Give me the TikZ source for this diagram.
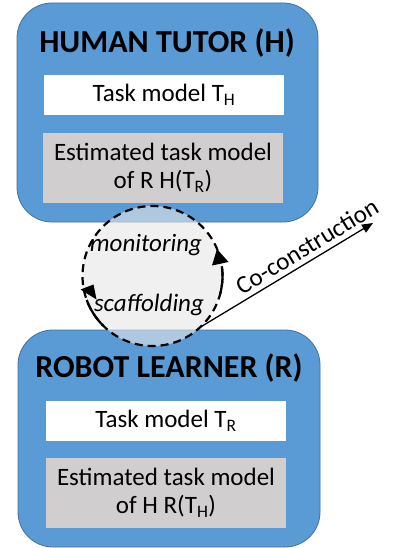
\documentclass[tikz,border=0pt]{standalone}
\usepackage{fontspec}
\setmainfont{Carlito}
\usetikzlibrary{arrows.meta}
\definecolor{agentblue}{HTML}{5B9BD5}
\definecolor{agentline}{HTML}{41719C}
\definecolor{estgray}{HTML}{D0CECE}
\definecolor{loopgray}{HTML}{E6E6E6}
\tikzset{
  agent/.style={draw=agentline, fill=agentblue, rounded corners=35pt, line width=0.8pt},
  title/.style={font=\fontsize{32}{36}\selectfont\bfseries},
  model/.style={fill=white, minimum width=240pt, minimum height=40pt, inner sep=0pt, font=\fontsize{25}{28}\selectfont},
  estimate/.style={fill=estgray, minimum width=240pt, minimum height=70pt, inner sep=0pt, align=center, font=\fontsize{25}{28}\selectfont},
  phase/.style={font=\fontsize{25}{28}\selectfont\itshape},
  loopline/.style={line width=2.2pt},
}
\begin{document}
\begin{tikzpicture}[x=1pt,y=-1pt]
    \useasboundingbox (0,0) rectangle (401,548);
    % human tutor
    \node[agent, minimum width=301pt, minimum height=219pt] (tutor) at (167.5,112.5) {};
    \node[title] (tutortitle) at (167,43) {HUMAN TUTOR (H)};
    \node[model] (tutormodel) at (164,95) {Task model T\textsubscript{H}};
    \node[estimate] (tutorest) at (163,168) {Estimated task model\\of R H(T\textsubscript{R})};
    % robot learner
    \node[agent, minimum width=302pt, minimum height=217pt] (robot) at (169,438.5) {};
    \node[title] (robottitle) at (169,368) {ROBOT LEARNER (R)};
    \node[model] (robotmodel) at (166,421) {Task model T\textsubscript{R}};
    \node[estimate] (robotest) at (166,493) {Estimated task model\\of H R(T\textsubscript{H})};
    % interaction loop (y axis points down, so arc angles are mirrored)
    \def\r{70}
    \node[circle, draw, line width=2.2pt, dash pattern=on 8pt off 5pt, fill=loopgray, fill opacity=0.6,
      minimum size=2*\r pt, inner sep=0pt, outer sep=0pt] (loop) at (152.5,276) {};
    \draw[loopline] (loop.-15) arc[start angle=15, end angle=-8, radius=\r];
    \fill (217,249) -- (212,265.5) -- (228.5,262) -- cycle;
    \draw[loopline] (loop.225) arc[start angle=135, end angle=160, radius=\r];
    \fill (80.5,289.5) -- (93.5,284.5) -- (96.5,299.5) -- cycle;
    \node[phase] (monitor) at (146,245) {monitoring};
    \node[phase] (scaffold) at (149,305) {scaffolding};
    % co-construction
    \coordinate (coend) at (373,223);
    \draw[line width=1.3pt, -{Triangle[length=11pt,width=9pt]}] (loop.-47) -- (coend)
      node[pos=0.66, sloped, above, inner sep=5pt, font=\fontsize{25}{28}\selectfont] (colabel) {Co-construction};
\end{tikzpicture}
\end{document}
